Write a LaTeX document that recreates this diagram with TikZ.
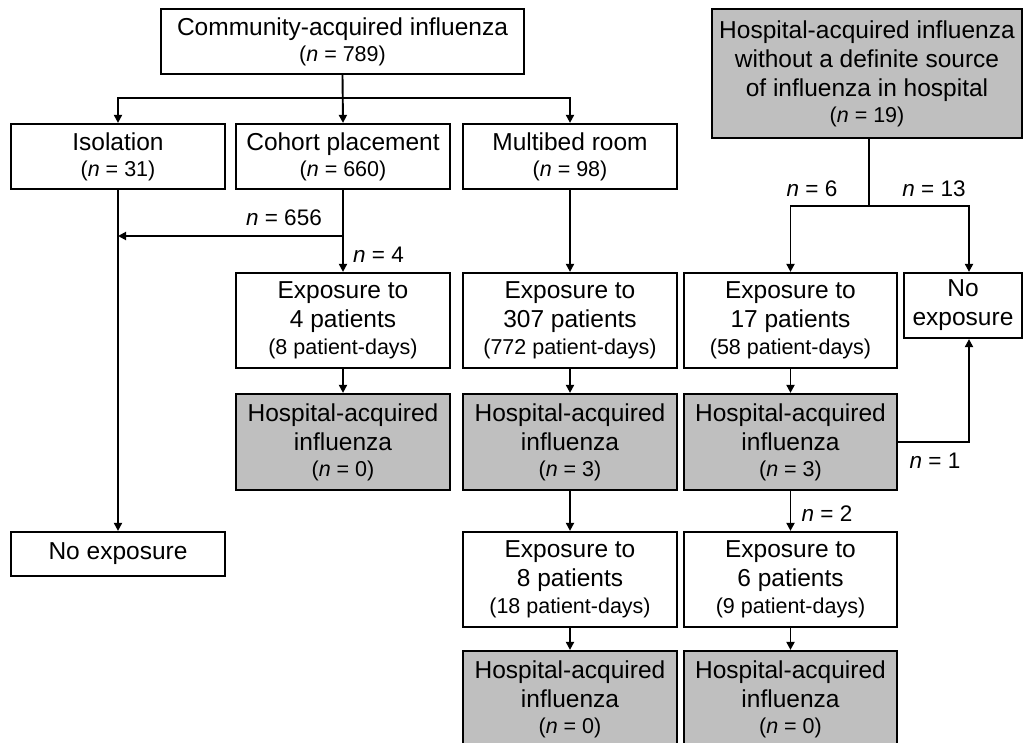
\documentclass[tikz,border=0pt]{standalone}
\usepackage{fontspec}
\setmainfont{Liberation Sans}
\usetikzlibrary{arrows.meta,calc}
\definecolor{boxgray}{RGB}{191,191,191}
\tikzset{
 box/.style={draw=black, line width=2.2pt, fill=white, align=center, inner sep=0pt,
   font=\fontsize{24.5}{29}\selectfont, minimum width=214pt, minimum height=95pt},
 gbox/.style={box, fill=boxgray},
 conn/.style={line width=1.9pt, -{Triangle[length=8pt,width=8pt]}},
 plainline/.style={line width=1.9pt},
 lab/.style={font=\fontsize{22.5}{25}\selectfont, inner sep=0pt},
}
\newcommand\sm[1]{{\fontsize{21.5}{25}\selectfont #1}}
\begin{document}
\begin{tikzpicture}[x=1pt,y=-1pt]
\clip (0,0) rectangle (1027,743);
% row 1
\node[box, minimum width=363pt, minimum height=65pt] (top) at (342.5,41.5)
  {Community-acquired influenza\\[-3pt]\sm{(\textit{n} = 789)}};
\node[gbox, minimum width=310pt, minimum height=129pt] (h19) at (867,73.5)
  {Hospital-acquired influenza\\without a definite source\\of influenza in hospital\\[-3pt]\sm{(\textit{n} = 19)}};
% row 2
\node[box, minimum height=65pt] (iso) at (118,156.5) {Isolation\\[-3pt]\sm{(\textit{n} = 31)}};
\node[box, minimum height=65pt] (coh) at (343,156.5) {Cohort placement\\[-3pt]\sm{(\textit{n} = 660)}};
\node[box, minimum height=65pt] (mul) at (570,156.5) {Multibed room\\[-3pt]\sm{(\textit{n} = 98)}};
% row 3
\node[box] (e4) at (343,320.5) {Exposure to\\4 patients\\[-2pt]\sm{(8 patient-days)}};
\node[box] (e307) at (570,320.5) {Exposure to\\307 patients\\[-2pt]\sm{(772 patient-days)}};
\node[box, minimum width=213pt] (e17) at (790.5,320.5) {Exposure to\\17 patients\\[-2pt]\sm{(58 patient-days)}};
\node[box, minimum width=118pt, minimum height=65pt] (nexR) at (963,305.5) {No\\exposure};
% row 4
\node[gbox, minimum height=96pt] (h0a) at (343,442) {Hospital-acquired\\influenza\\[-3pt]\sm{(\textit{n} = 0)}};
\node[gbox, minimum height=96pt] (h3a) at (570,442) {Hospital-acquired\\influenza\\[-3pt]\sm{(\textit{n} = 3)}};
\node[gbox, minimum width=213pt, minimum height=96pt] (h3b) at (790.5,442) {Hospital-acquired\\influenza\\[-3pt]\sm{(\textit{n} = 3)}};
% row 5
\node[box, minimum height=44pt] (nexL) at (118,554) {No exposure};
\node[box] (e8) at (570,579.5) {Exposure to\\8 patients\\[-2pt]\sm{(18 patient-days)}};
\node[box, minimum width=213pt] (e6) at (790.5,579.5) {Exposure to\\6 patients\\[-2pt]\sm{(9 patient-days)}};
% row 6
\node[gbox, minimum height=96pt] (h0b) at (570,699) {Hospital-acquired\\influenza\\[-3pt]\sm{(\textit{n} = 0)}};
\node[gbox, minimum width=213pt, minimum height=96pt] (h0c) at (790.5,699) {Hospital-acquired\\influenza\\[-3pt]\sm{(\textit{n} = 0)}};
% junctions
\coordinate (j1) at (343,98);
\coordinate (j2) at (343,236);
\coordinate (j3) at (869,206);
% connectors
\draw[conn] (top.south) -- (coh.north);
\draw[conn] (j1) -| (iso.north);
\draw[conn] (j1) -| (mul.north);
\draw[conn] (iso.south) -- (nexL.north);
\draw[conn] (coh.south) -- (e4.north);
\draw[conn] (j2) -- (iso.south |- j2);
\draw[conn] (mul.south) -- (e307.north);
\draw[conn] (e4.south) -- (h0a.north);
\draw[conn] (e307.south) -- (h3a.north);
\draw[conn] (h3a.south) -- (e8.north);
\draw[conn] (e8.south) -- (h0b.north);
\draw[plainline] (h19.south -| j3) -- (j3);
\draw[conn] (j3) -| (e17.north);
\draw[conn] (j3) -| ([xshift=6pt]nexR.north);
\draw[conn] (e17.south) -- (h3b.north);
\draw[conn] (h3b.south) -- (e6.north);
\draw[conn] (e6.south) -- (h0c.north);
\draw[conn] (h3b.east |- 0,442) -| ([xshift=6pt]nexR.south);
% labels
\node[lab, anchor=east] (l656) at (322,218) {\textit{n} = 656};
\node[lab, anchor=west] (l4) at (353,255) {\textit{n} = 4};
\node[lab] (l6) at (812,189) {\textit{n} = 6};
\node[lab] (l13) at (934,189) {\textit{n} = 13};
\node[lab] (l1) at (935,461) {\textit{n} = 1};
\node[lab] (l2) at (827,514) {\textit{n} = 2};
\end{tikzpicture}
\end{document}
